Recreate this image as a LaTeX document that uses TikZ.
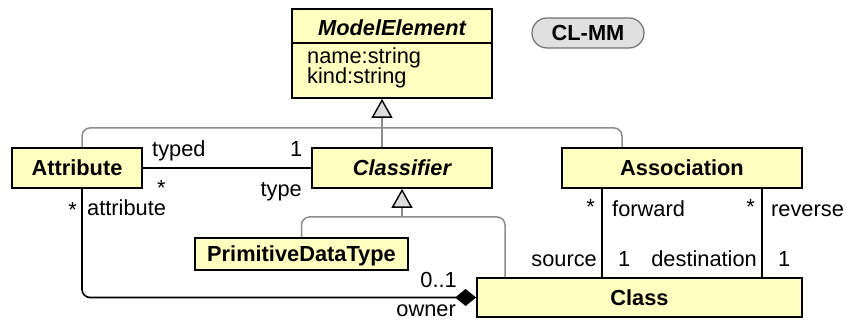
\documentclass[tikz,border=0pt]{standalone}
\usepackage{fontspec}
\setmainfont{Liberation Sans}
\usetikzlibrary{arrows.meta}
\definecolor{boxfill}{HTML}{FFFFC0}
\definecolor{genline}{HTML}{8C8C8C}
\definecolor{trifill}{HTML}{DCDCDC}
\definecolor{pillfill}{HTML}{E0E0E0}
\definecolor{pilldraw}{HTML}{707070}
\newcommand\dsize{\fontsize{21.8}{25}\selectfont}
\begin{document}
\begin{tikzpicture}[x=1pt,y=-1pt,
  umlbox/.style={draw=black, line width=1.8pt, fill=boxfill, inner sep=0pt,
    font=\dsize\bfseries, text height=15.4pt, text depth=0pt},
  lbl/.style={inner sep=0pt, font=\dsize},
  genl/.style={draw=genline, line width=1.5pt},
  gentip/.style={-{Triangle[length=19pt,width=21pt,line width=1.4pt,color=black,fill=trifill]}},
  assocl/.style={draw=black, line width=1.6pt},
  comptip/.style={-{Diamond[length=21pt,width=17pt]}}]
\useasboundingbox (0,0) rectangle (847,320);
% boxes
\node[umlbox, minimum width=200pt, minimum height=89pt] (me) at (392,53.5) {};
\node[lbl, font=\dsize\bfseries\itshape, anchor=base] (mehead) at (392,35.5) {ModelElement};
\coordinate (medl) at (292,43);
\coordinate (medr) at (492,43);
\draw[line width=1.8pt] (medl) -- (medr);
\node[lbl, anchor=base west] (mename) at (307,63.5) {name:string};
\node[lbl, anchor=base west] (mekind) at (307,84) {kind:string};
\node[umlbox, minimum width=130pt, minimum height=40pt] (attr) at (77,168) {Attribute};
\node[umlbox, minimum width=180pt, minimum height=40pt, font=\dsize\bfseries\itshape] (classifier) at (402,168) {Classifier};
\node[umlbox, minimum width=240pt, minimum height=40pt] (assoc) at (682,168) {Association};
\node[umlbox, minimum width=213pt, minimum height=32pt] (pdt) at (301.5,254) {PrimitiveDataType};
\node[umlbox, minimum width=325pt, minimum height=39pt] (class) at (639.5,297.5) {Class};
\node[draw=pilldraw, line width=1.2pt, fill=pillfill, rounded corners=15pt, minimum width=112pt,
  minimum height=30pt, inner sep=0pt, font=\dsize\bfseries, text height=15.4pt, text depth=0pt] (clmm) at (588,33) {CL-MM};
% generalizations
\coordinate (genbar) at (382,128);
\coordinate (genbar2) at (402,217);
\draw[genl, rounded corners=8pt] ([xshift=5pt]attr.north) |- (genbar) -| ([xshift=-60pt]assoc.north);
\draw[genl, gentip] ([xshift=-20pt]classifier.north) -- (me.south -| genbar);
\draw[genl, rounded corners=8pt] (pdt.north) |- (genbar2) -| ([xshift=-134.5pt]class.north);
\draw[genl, gentip] (genbar2) -- (classifier.south);
% associations
\draw[assocl] (attr.east) -- (classifier.west);
\draw[assocl, rounded corners=8pt, comptip] ([xshift=5pt]attr.south) |- (class.west);
\draw[assocl] ([xshift=-80pt]assoc.south) -- ([xshift=-80pt]assoc.south |- class.north);
\draw[assocl] ([xshift=80pt]assoc.south) -- ([xshift=80pt]assoc.south |- class.north);
% labels
\node[lbl, anchor=base west] (ltyped) at (152,157) {typed};
\node[lbl, anchor=base west] (lone1) at (290,157) {1};
\node[lbl, anchor=base west] (lstar1) at (157,196) {*};
\node[lbl, anchor=base east] (ltype) at (302,197) {type};
\node[lbl, anchor=base east] (lstar2) at (77,218) {*};
\node[lbl, anchor=base west] (lattr) at (87,216) {attribute};
\node[lbl, anchor=base east] (l01) at (457,288) {0..1};
\node[lbl, anchor=base east] (lowner) at (456,317) {owner};
\node[lbl, anchor=base east] (lstar3) at (595,215) {*};
\node[lbl, anchor=base west] (lfwd) at (612,217) {forward};
\node[lbl, anchor=base east] (lstar4) at (755,215) {*};
\node[lbl, anchor=base west] (lrev) at (771,217) {reverse};
\node[lbl, anchor=base east] (lsrc) at (597,267) {source};
\node[lbl, anchor=base west] (lone2) at (618,267) {1};
\node[lbl, anchor=base east] (ldest) at (757,267) {destination};
\node[lbl, anchor=base west] (lone3) at (778,267) {1};
\end{tikzpicture}
\end{document}
